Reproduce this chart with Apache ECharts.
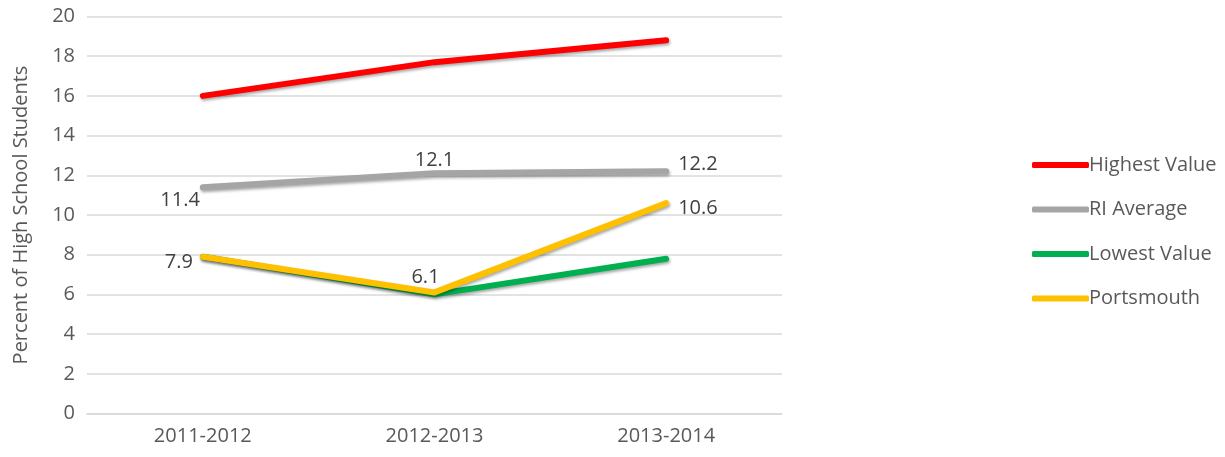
<!DOCTYPE html>
<html><head><meta charset="utf-8">
<script src="https://cdn.jsdelivr.net/npm/echarts@6/dist/echarts.min.js"></script>
<style>html,body{margin:0;padding:0;background:#fff}#c{width:1225px;height:457px}</style>
</head><body><div id="c"></div>
<script>
const categories = ['2011-2012', '2012-2013', '2013-2014'];
const highestValue = [16.0, 17.7, 18.8];
const riAverage = [11.4, 12.1, 12.2];
const lowestValue = [7.9, 6.0, 7.8];
const portsmouth = [7.9, 6.1, 10.6];
const yTicks = [0, 2, 4, 6, 8, 10, 12, 14, 16, 18, 20];

const FONT = '"Open Sans", sans-serif';
const FS = 20;
const labelBase = {show: true, fontSize: FS, color: '#404040', fontFamily: FONT, formatter: p => Number(p.value).toFixed(1)};
const shadow = {shadowColor: 'rgba(0,0,0,0.35)', shadowBlur: 3, shadowOffsetX: 1, shadowOffsetY: 2};

function mk(name, data, color, labels) {
  return {
    name, type: 'line',
    data: data.map((v, i) => labels && labels[i] ? {value: v, label: Object.assign({}, labelBase, labels[i])} : v),
    symbol: 'circle', symbolSize: 0.01, showSymbol: true,
    lineStyle: Object.assign({width: 6, color, cap: 'round', join: 'round'}, shadow),
    itemStyle: {color},
    label: {show: false},
    emphasis: {disabled: true}
  };
}

const chart = echarts.init(document.getElementById('c'));
chart.setOption({
  animation: false,
  grid: {left: 87, right: 443, top: 16.5, bottom: 43.5},
  legend: {
    orient: 'vertical', left: 1027, top: 150, itemGap: 24.5, itemWidth: 57, itemHeight: 6,
    icon: 'roundRect', textStyle: {fontSize: FS, color: '#595959', fontFamily: FONT, padding: [0,0,0,-5]},
    data: ['Highest Value', 'RI Average', 'Lowest Value', 'Portsmouth']
  },
  xAxis: {
    type: 'category', data: categories, boundaryGap: true,
    axisLine: {lineStyle: {color: '#d9d9d9', width: 1.5}}, axisTick: {show: false},
    axisLabel: {fontSize: FS, color: '#595959', fontFamily: FONT, margin: 13}
  },
  yAxis: {
    type: 'value', min: yTicks[0], max: yTicks[yTicks.length - 1], interval: 2,
    name: 'Percent of High School Students', nameLocation: 'middle', nameGap: 56,
    nameTextStyle: {fontSize: FS, color: '#595959', fontFamily: FONT},
    axisLine: {show: false}, axisTick: {show: false},
    axisLabel: {fontSize: FS, color: '#595959', fontFamily: FONT, margin: 12},
    splitLine: {lineStyle: {color: '#d9d9d9', width: 1.5}}
  },
  series: [
    mk('Highest Value', highestValue, '#ff0000'),
    mk('RI Average', riAverage, '#a5a5a5', [{position: 'left', offset: [0, 13], distance: 3}, {position: 'top', distance: 3}, {position: 'right', distance: 12, offset: [0, -7]}]),
    mk('Lowest Value', lowestValue, '#00b050'),
    mk('Portsmouth', portsmouth, '#ffc000', [{position: 'left', distance: 10, offset: [0, 6]}, {position: 'top', distance: 5, offset: [-9, 0]}, {position: 'right', distance: 12, offset: [0, 5]}])
  ]
});
</script></body></html>
